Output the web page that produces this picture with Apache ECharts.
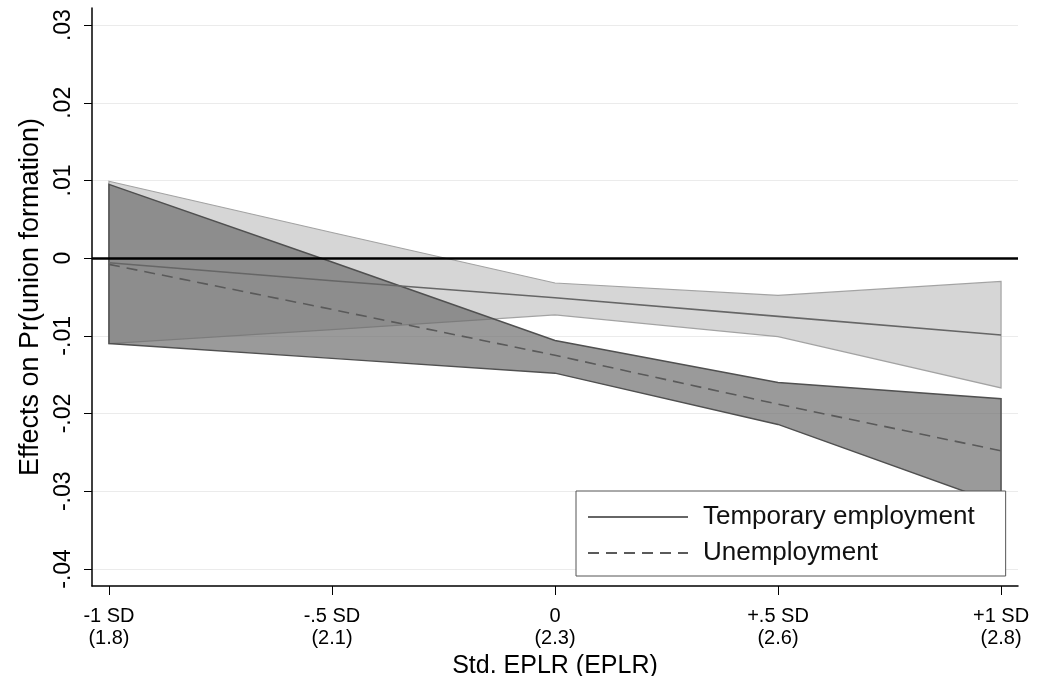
<!DOCTYPE html>
<html>
<head>
<meta charset="utf-8">
<script src="https://cdn.jsdelivr.net/npm/echarts@6/dist/echarts.min.js"></script>
<style>
  html, body { margin: 0; padding: 0; background: #fff; }
  #chart { width: 1044px; height: 676px; }
</style>
</head>
<body>
<div id="chart"></div>
<script>
// x positions (in SD units) and their tick labels
var xVals = [-1, -0.5, 0, 0.5, 1];
var xTickLabels = ['-1 SD\n(1.8)', '-.5 SD\n(2.1)', '0\n(2.3)', '+.5 SD\n(2.6)', '+1 SD\n(2.8)'];

// y ticks
var yTickVals = [-0.04, -0.03, -0.02, -0.01, 0, 0.01, 0.02, 0.03];
var yTickLabels = ['-.04', '-.03', '-.02', '-.01', '0', '.01', '.02', '.03'];

// Temporary employment: estimate and CI
var tempEst = [-0.0006, -0.0029, -0.0051, -0.0075, -0.0099];
var tempLo  = [-0.0110, -0.0092, -0.0073, -0.0101, -0.0167];
var tempHi  = [0.0099, 0.0033, -0.0032, -0.0048, -0.0030];

// Unemployment: estimate and CI
var unempEst = [-0.0008, -0.0066, -0.0125, -0.0188, -0.0248];
var unempLo  = [-0.0110, -0.0129, -0.0148, -0.0214, -0.0317];
var unempHi  = [0.0095, -0.0005, -0.0106, -0.0160, -0.0181];

var chart = echarts.init(document.getElementById('chart'));

function pairs(ys) {
	return xVals.map(function (x, i) { return [x, ys[i]]; });
}

// closed polygon for a confidence band
function band(lo, hi, fill, stroke, lw) {
	return function (params, api) {
		var pts = [];
		for (var i = 0; i < xVals.length; i++) pts.push(api.coord([xVals[i], hi[i]]));
		for (var j = xVals.length - 1; j >= 0; j--) pts.push(api.coord([xVals[j], lo[j]]));
		return {
			type: 'polygon',
			shape: { points: pts },
			style: { fill: fill, stroke: stroke, lineWidth: lw }
		};
	};
}

var font = 'Liberation Sans, Arial, sans-serif';

var option = {
	animation: false,
	textStyle: { fontFamily: font, color: '#000' },
	grid: { left: 92, right: 26, top: 8, bottom: 90, containLabel: false, outerBoundsMode: 'none' },
	xAxis: {
		type: 'value',
		min: -1.038,
		max: 1.038,
		name: 'Std. EPLR (EPLR)',
		nameLocation: 'middle',
		nameGap: 64,
		nameTextStyle: { fontSize: 25, color: '#000', fontFamily: font },
		axisLine: { onZero: false, lineStyle: { color: '#000', width: 1.5 } },
		axisTick: { customValues: xVals, length: 9, lineStyle: { color: '#000', width: 1 } },
		axisLabel: {
			customValues: xVals,
			margin: 19,
			fontSize: 20,
			lineHeight: 22,
			color: '#000',
			formatter: function (v) {
				var i = xVals.indexOf(v);
				return i >= 0 ? xTickLabels[i] : '';
			}
		},
		splitLine: { show: false }
	},
	yAxis: {
		type: 'value',
		min: -0.0422,
		max: 0.0322,
		name: 'Effects on Pr(union formation)',
		nameLocation: 'middle',
		nameGap: 46,
		nameTextStyle: { fontSize: 27, color: '#000', fontFamily: font },
		axisLine: { show: true, onZero: false, lineStyle: { color: '#000', width: 1.5 } },
		axisTick: { show: true, customValues: yTickVals, length: 8, lineStyle: { color: '#000', width: 1 } },
		axisLabel: {
			customValues: yTickVals,
			rotate: 90,
			margin: 17,
			fontSize: 23,
			color: '#000',
			formatter: function (v) {
				for (var i = 0; i < yTickVals.length; i++) {
					if (Math.abs(yTickVals[i] - v) < 1e-9) return yTickLabels[i];
				}
				return '';
			}
		},
		splitLine: { show: true, lineStyle: { color: '#ebebeb', width: 1 } }
	},
	legend: {
		data: ['Temporary employment', 'Unemployment'],
		orient: 'vertical',
		left: 576,
		top: 491,
		padding: [13, 31, 10, 11],
		itemGap: 10,
		itemWidth: 100,
		itemHeight: 14,
		backgroundColor: '#fff',
		borderColor: '#555',
		borderWidth: 1,
		borderRadius: 0,
		itemStyle: { opacity: 0 },
		textStyle: { fontSize: 26, color: '#111', fontFamily: font, padding: [0, 0, 0, 10] }
	},
	series: [
		{
			name: 'tempBand',
			type: 'custom',
			silent: true,
			z: 1,
			data: [0],
			renderItem: band(tempLo, tempHi, '#d6d6d6', '#a3a3a3', 1.2)
		},
		{
			name: 'unempBand',
			type: 'custom',
			silent: true,
			z: 2,
			data: [0],
			renderItem: band(unempLo, unempHi, 'rgba(106,106,106,0.68)', '#505050', 1.5)
		},
		{
			name: 'Temporary employment',
			type: 'line',
			z: 3,
			symbol: 'none',
			data: pairs(tempEst),
			lineStyle: { color: '#666', width: 1.6, type: 'solid' },
			itemStyle: { color: '#666' },
			markLine: {
				silent: true,
				symbol: 'none',
				label: { show: false },
				lineStyle: { color: '#000', width: 2.5, type: 'solid' },
				data: [{ yAxis: 0 }]
			}
		},
		{
			name: 'Unemployment',
			type: 'line',
			z: 3,
			symbol: 'none',
			data: pairs(unempEst),
			lineStyle: { color: '#5a5a5a', width: 1.6, type: [11, 7] },
			itemStyle: { color: '#5a5a5a' }
		}
	]
};

chart.setOption(option);
</script>
</body>
</html>
